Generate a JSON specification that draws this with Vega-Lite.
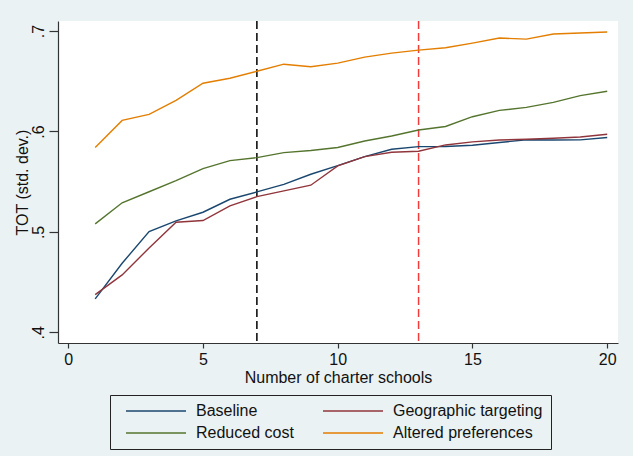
{
  "$schema": "https://vega.github.io/schema/vega-lite/v6.json",
  "width": 560,
  "height": 322,
  "autosize": {"type": "none"},
  "padding": {"left": 58, "top": 21, "right": 15, "bottom": 113},
  "background": "#eaf2f3",
  "config": {
    "view": {"fill": "white", "stroke": null},
    "font": "Liberation Sans",
    "axis": {"domainColor": "#333333", "tickColor": "#333333", "labelColor": "#111111", "titleColor": "#111111", "grid": false, "labelFontSize": 16, "titleFontSize": 16, "titleFontWeight": "normal", "tickSize": 5, "domainWidth": 1.2, "tickWidth": 1.2}
  },
  "datasets": {
    "lines": [
      {"n": 1, "series": "Baseline", "tot": 0.4333}, {"n": 2, "series": "Baseline", "tot": 0.4688}, {"n": 3, "series": "Baseline", "tot": 0.5003}, {"n": 4, "series": "Baseline", "tot": 0.511}, {"n": 5, "series": "Baseline", "tot": 0.5196}, {"n": 6, "series": "Baseline", "tot": 0.5325}, {"n": 7, "series": "Baseline", "tot": 0.5398}, {"n": 8, "series": "Baseline", "tot": 0.5474}, {"n": 9, "series": "Baseline", "tot": 0.5574}, {"n": 10, "series": "Baseline", "tot": 0.566}, {"n": 11, "series": "Baseline", "tot": 0.5749}, {"n": 12, "series": "Baseline", "tot": 0.5823}, {"n": 13, "series": "Baseline", "tot": 0.5849}, {"n": 14, "series": "Baseline", "tot": 0.585}, {"n": 15, "series": "Baseline", "tot": 0.5863}, {"n": 16, "series": "Baseline", "tot": 0.589}, {"n": 17, "series": "Baseline", "tot": 0.5918}, {"n": 18, "series": "Baseline", "tot": 0.5915}, {"n": 19, "series": "Baseline", "tot": 0.5916}, {"n": 20, "series": "Baseline", "tot": 0.594},
      {"n": 1, "series": "Geographic targeting", "tot": 0.4376}, {"n": 2, "series": "Geographic targeting", "tot": 0.4572}, {"n": 3, "series": "Geographic targeting", "tot": 0.484}, {"n": 4, "series": "Geographic targeting", "tot": 0.5096}, {"n": 5, "series": "Geographic targeting", "tot": 0.5113}, {"n": 6, "series": "Geographic targeting", "tot": 0.526}, {"n": 7, "series": "Geographic targeting", "tot": 0.5351}, {"n": 8, "series": "Geographic targeting", "tot": 0.5408}, {"n": 9, "series": "Geographic targeting", "tot": 0.5465}, {"n": 10, "series": "Geographic targeting", "tot": 0.5657}, {"n": 11, "series": "Geographic targeting", "tot": 0.575}, {"n": 12, "series": "Geographic targeting", "tot": 0.5793}, {"n": 13, "series": "Geographic targeting", "tot": 0.5803}, {"n": 14, "series": "Geographic targeting", "tot": 0.5866}, {"n": 15, "series": "Geographic targeting", "tot": 0.5896}, {"n": 16, "series": "Geographic targeting", "tot": 0.5915}, {"n": 17, "series": "Geographic targeting", "tot": 0.5922}, {"n": 18, "series": "Geographic targeting", "tot": 0.5932}, {"n": 19, "series": "Geographic targeting", "tot": 0.5945}, {"n": 20, "series": "Geographic targeting", "tot": 0.5972},
      {"n": 1, "series": "Reduced cost", "tot": 0.508}, {"n": 2, "series": "Reduced cost", "tot": 0.529}, {"n": 3, "series": "Reduced cost", "tot": 0.54}, {"n": 4, "series": "Reduced cost", "tot": 0.551}, {"n": 5, "series": "Reduced cost", "tot": 0.563}, {"n": 6, "series": "Reduced cost", "tot": 0.571}, {"n": 7, "series": "Reduced cost", "tot": 0.574}, {"n": 8, "series": "Reduced cost", "tot": 0.579}, {"n": 9, "series": "Reduced cost", "tot": 0.581}, {"n": 10, "series": "Reduced cost", "tot": 0.584}, {"n": 11, "series": "Reduced cost", "tot": 0.5905}, {"n": 12, "series": "Reduced cost", "tot": 0.5955}, {"n": 13, "series": "Reduced cost", "tot": 0.6015}, {"n": 14, "series": "Reduced cost", "tot": 0.605}, {"n": 15, "series": "Reduced cost", "tot": 0.6147}, {"n": 16, "series": "Reduced cost", "tot": 0.621}, {"n": 17, "series": "Reduced cost", "tot": 0.624}, {"n": 18, "series": "Reduced cost", "tot": 0.629}, {"n": 19, "series": "Reduced cost", "tot": 0.6357}, {"n": 20, "series": "Reduced cost", "tot": 0.64},
      {"n": 1, "series": "Altered preferences", "tot": 0.584}, {"n": 2, "series": "Altered preferences", "tot": 0.611}, {"n": 3, "series": "Altered preferences", "tot": 0.617}, {"n": 4, "series": "Altered preferences", "tot": 0.631}, {"n": 5, "series": "Altered preferences", "tot": 0.648}, {"n": 6, "series": "Altered preferences", "tot": 0.653}, {"n": 7, "series": "Altered preferences", "tot": 0.66}, {"n": 8, "series": "Altered preferences", "tot": 0.667}, {"n": 9, "series": "Altered preferences", "tot": 0.6645}, {"n": 10, "series": "Altered preferences", "tot": 0.668}, {"n": 11, "series": "Altered preferences", "tot": 0.674}, {"n": 12, "series": "Altered preferences", "tot": 0.678}, {"n": 13, "series": "Altered preferences", "tot": 0.681}, {"n": 14, "series": "Altered preferences", "tot": 0.6834}, {"n": 15, "series": "Altered preferences", "tot": 0.688}, {"n": 16, "series": "Altered preferences", "tot": 0.693}, {"n": 17, "series": "Altered preferences", "tot": 0.692}, {"n": 18, "series": "Altered preferences", "tot": 0.697}, {"n": 19, "series": "Altered preferences", "tot": 0.698}, {"n": 20, "series": "Altered preferences", "tot": 0.699}
    ]
  },
  "layer": [
    {
      "data": {"values": [{"n": 7}]},
      "mark": {"type": "rule", "color": "black", "strokeDash": [8, 4], "strokeWidth": 1.5},
      "encoding": {"x": {"field": "n", "type": "quantitative"}}
    },
    {
      "data": {"values": [{"n": 13}]},
      "mark": {"type": "rule", "color": "#f03c3c", "strokeDash": [8, 4], "strokeWidth": 1.5},
      "encoding": {"x": {"field": "n", "type": "quantitative"}}
    },
    {
      "data": {"name": "lines"},
      "mark": {"type": "line", "strokeWidth": 1.4},
      "encoding": {
        "x": {"field": "n", "type": "quantitative", "scale": {"domain": [-0.38, 20.4], "nice": false, "zero": false},
              "axis": {"values": [0, 5, 10, 15, 20], "title": "Number of charter schools", "titlePadding": 2, "labelPadding": 3}},
        "y": {"field": "tot", "type": "quantitative", "scale": {"domain": [0.3894, 0.71], "nice": false, "zero": false},
              "axis": {"values": [0.4, 0.5, 0.6, 0.7], "title": "TOT (std. dev.)", "labelExpr": "replace(format(datum.value, '.1f'), '0.', '.')", "labelAngle": -90, "labelAlign": "center", "labelBaseline": "bottom", "tickSize": 9, "labelPadding": 3, "titlePadding": 0}},
        "color": {"field": "series", "type": "nominal",
                  "scale": {"domain": ["Baseline", "Geographic targeting", "Reduced cost", "Altered preferences"], "range": ["#1a476f", "#90353b", "#55752f", "#e37e00"]},
                  "legend": {"title": null, "orient": "none", "legendX": 52, "legendY": 374, "columns": 2, "direction": "horizontal", "symbolType": "M0,0H20", "symbolSize": 36, "symbolStrokeWidth": 1.4, "labelFontSize": 16, "labelOffset": 62, "labelColor": "#111111", "strokeColor": "#222222", "fillColor": "#eaf2f3", "padding": 8, "columnPadding": 21, "rowPadding": 6, "labelLimit": 300}}
      }
    }
  ]
}
